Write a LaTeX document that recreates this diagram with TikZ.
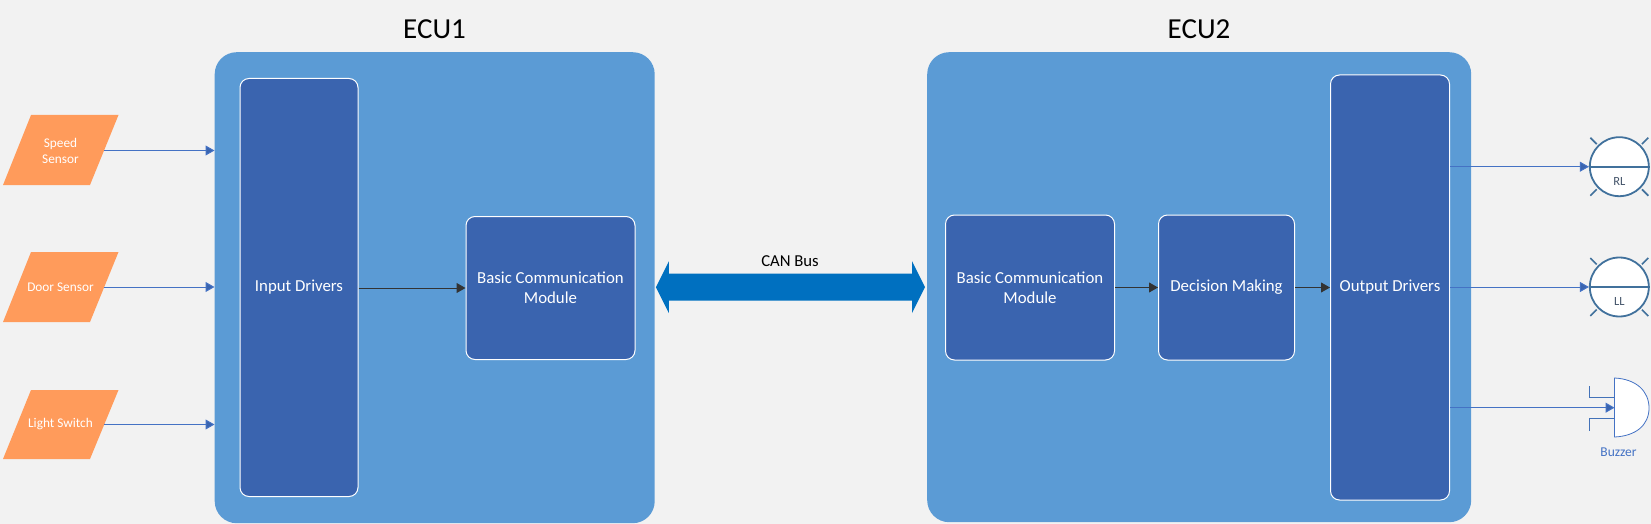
\documentclass[tikz,border=0pt]{standalone}
\usepackage{fontspec}
\setmainfont{Carlito}
\usetikzlibrary{arrows.meta,calc}
\definecolor{bgc}{HTML}{F2F2F2}
\definecolor{ecuc}{HTML}{5B9BD5}
\definecolor{modc}{HTML}{3A64AF}
\definecolor{sensc}{HTML}{FF9B5B}
\definecolor{canc}{HTML}{0070C0}
\definecolor{lampc}{HTML}{41719C}
\definecolor{wirec}{HTML}{4472C4}
\definecolor{txtc}{HTML}{44546A}
\tikzset{
  ecubox/.style={fill=ecuc,draw=none,rounded corners=22pt,inner sep=0pt,anchor=north west},
  modbox/.style={fill=modc,draw=white,line width=1pt,rounded corners=9pt,inner sep=0pt,text=white,align=center,font=\fontsize{16.8}{20}\selectfont,anchor=north west},
  senstext/.style={inner sep=0pt,text=white,align=center,font=\fontsize{13.3}{16}\selectfont,minimum width=87pt,minimum height=30pt},
  senshape/.style={fill=sensc,draw=none},
  wire/.style={draw=wirec,line width=1pt,-{Triangle[length=9pt,width=10pt,fill=modc]}},
  blackwire/.style={draw=black!80,line width=1pt,-{Triangle[length=9pt,width=10pt,fill=black!80]}},
  lamp/.style={circle,draw=lampc,fill=white,line width=1.8pt,minimum size=59pt,inner sep=0pt},
  ecutitle/.style={inner sep=0pt,font=\fontsize{29}{32}\selectfont,text=black},
  smalllabel/.style={inner sep=0pt,text=txtc,font=\fontsize{12.5}{14}\selectfont}
}
\begin{document}
\begin{tikzpicture}[x=1pt,y=-1pt]
\useasboundingbox[fill=bgc] (0,0) rectangle (1651,524);
% containers
\node[ecubox,minimum width=440pt,minimum height=471pt] (ecu1) at (214.5,52) {};
\node[ecubox,minimum width=544pt,minimum height=470pt] (ecu2) at (927,52) {};
\node[ecutitle] (t1) at (434.5,29) {ECU1};
\node[ecutitle] (t2) at (1199,29) {ECU2};
% modules
\node[modbox,minimum width=118pt,minimum height=418pt] (input) at (239.5,78) {\raisebox{-3pt}{Input Drivers}};
\node[modbox,minimum width=169pt,minimum height=143pt] (bcm1) at (465.5,216) {Basic Communication\\Module};
\node[modbox,minimum width=169pt,minimum height=145pt] (bcm2) at (945,214.5) {Basic Communication\\Module};
\node[modbox,minimum width=136pt,minimum height=145pt] (dec) at (1158,214.5) {\raisebox{-3pt}{Decision Making}};
\node[modbox,minimum width=119pt,minimum height=425pt] (out) at (1330,74.5) {\raisebox{-3pt}{Output Drivers}};
% sensors
\fill[senshape] (31,115) -- (118.5,115) -- (90,185) -- (3,185) -- cycle;
\fill[senshape] (31,252) -- (118.5,252) -- (90,322) -- (3,322) -- cycle;
\fill[senshape] (31,390) -- (118.5,390) -- (90,459) -- (3,459) -- cycle;
\node[senstext] (s1) at (60.5,150.5) {Speed\\Sensor};
\node[senstext] (s2) at (60.5,287) {\raisebox{-1pt}{Door Sensor}};
\node[senstext] (s3) at (60.5,424.5) {\raisebox{-1pt}{Light Switch}};
\draw[wire] (s1.east) -- (s1.east -| ecu1.west);
\draw[wire] (s2.east) -- (s2.east -| ecu1.west);
\draw[wire] (s3.east) -- (s3.east -| ecu1.west);
% internal
\draw[blackwire] (input.east |- bcm1.west) -- (bcm1.west);
\draw[blackwire] (bcm2.east) -- (dec.west);
\draw[blackwire] (dec.east) -- (out.west |- dec.east);
% CAN bus
\coordinate (canl) at ($(ecu1.east)+(1,-0.5)$);
\coordinate (canr) at ($(ecu2.west |- canl)+(-2,0)$);
\fill[canc] (canl) -- ++(13,-26) -- ++(0,12.5) -- ($(canr)+(-13,-13.5)$) -- ++(0,-12.5) -- (canr) -- ++(-13,26) -- ++(0,-12.5) -- ($(canl)+(13,13.5)$) -- ++(0,12.5) -- cycle;
\node[inner sep=0pt,text=black,font=\fontsize{16.7}{19}\selectfont] (can) at (790,261) {CAN Bus};
% lamps
\foreach \n/\y/\t in {rl/166.7/RL,ll/287/LL}{
  \foreach \a in {45,135,225,315}{
    \draw[lampc,line width=1.6pt] ($(1619.3,\y)+(\a:32)$) -- ($(1619.3,\y)+(\a:41)$);
  }
  \node[lamp] (\n) at (1619.3,\y) {};
  \draw[lampc,line width=1.8pt] (\n.west) -- (\n.east);
  \node[smalllabel] (\n t) at (1619.3,\y+14.5) {\t};
}
\draw[wire] (out.east |- rl.west) -- (rl.west);
\draw[wire] (out.east |- ll.west) -- (ll.west);
% buzzer
\draw[wirec!70!lampc,line width=1pt] (1589.5,386) -- (1589.5,397.5) -- (1614.5,397.5);
\draw[wirec!70!lampc,line width=1pt] (1589.5,430.5) -- (1589.5,418) -- (1614.5,418);
\draw[wirec,fill=white,line width=0.8pt] (1614.5,378) .. controls (1636,379) and (1649,391) .. (1649,408) .. controls (1649,425) and (1636,436) .. (1614.5,437) -- cycle;
\coordinate (buzz) at (1614.5,407.7);
\draw[wire] (out.east |- buzz) -- (buzz);
\node[inner sep=0pt,text=wirec,font=\fontsize{13.5}{15}\selectfont] (bt) at (1618.5,452) {Buzzer};
\end{tikzpicture}
\end{document}
